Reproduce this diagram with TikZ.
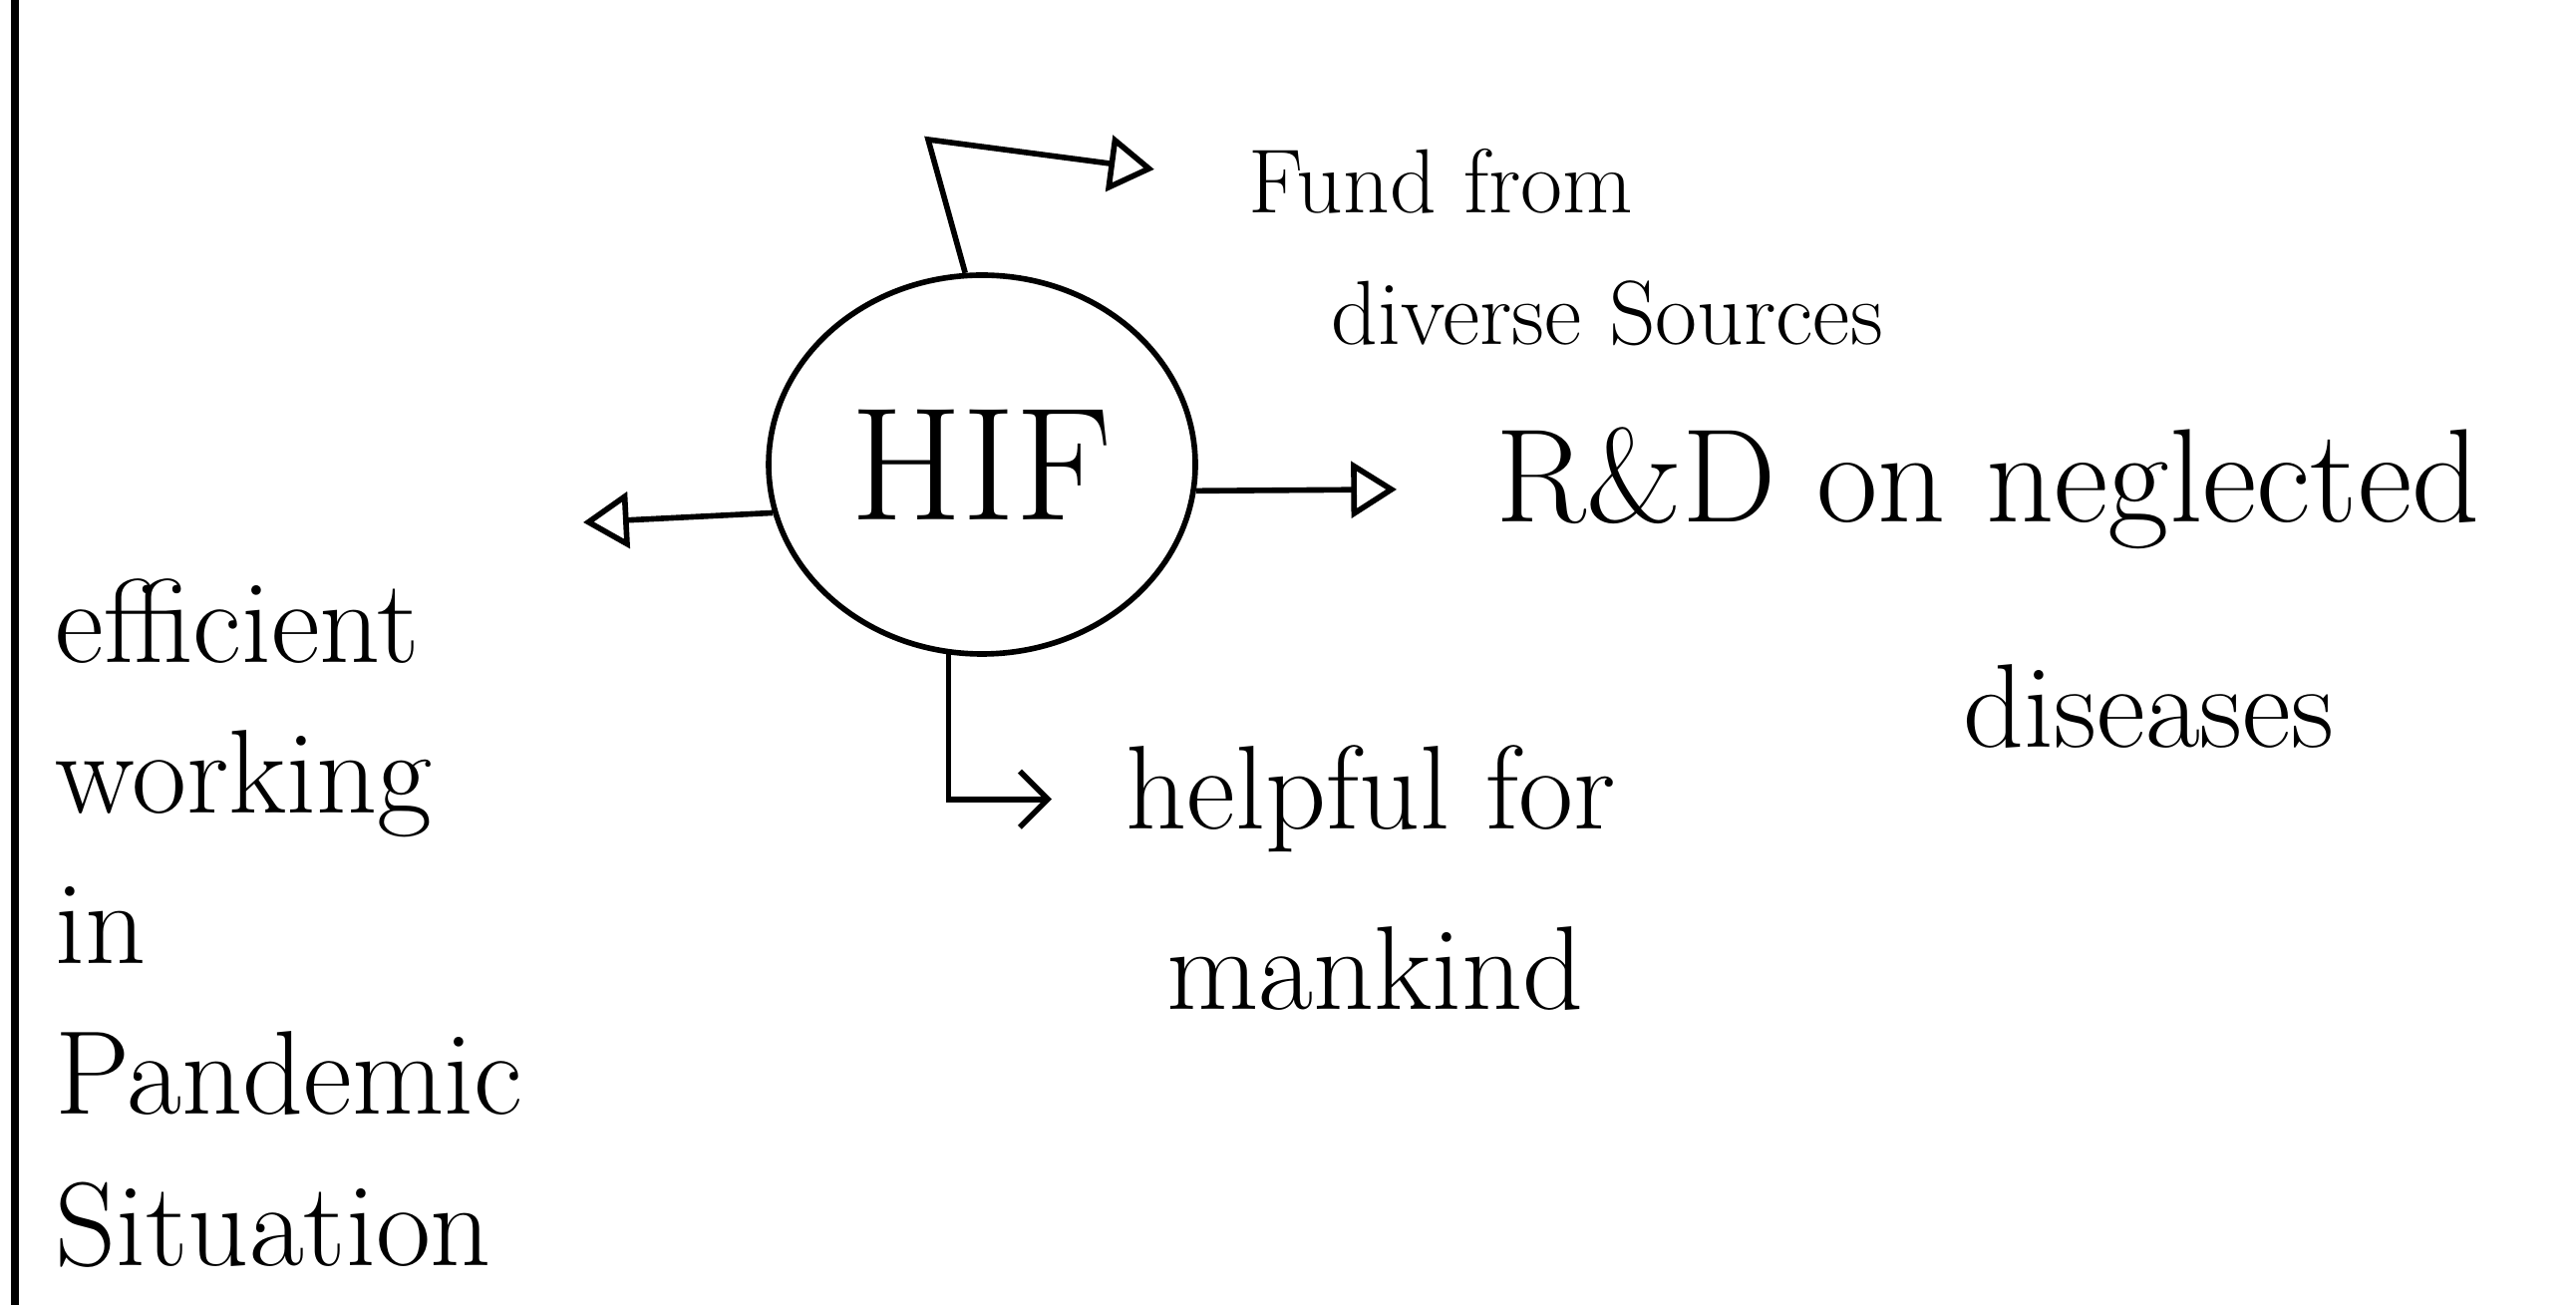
\documentclass[tikz,border=0pt]{standalone}
\usepackage{tikz}
\usetikzlibrary{shapes.geometric}
\usetikzlibrary{arrows.meta}

\tikzset{
  hand/.style={font=\fontsize{34}{43}\selectfont, inner sep=0pt},
  handsmall/.style={font=\fontsize{26}{32}\selectfont, inner sep=0pt},
  handbig/.style={font=\fontsize{38}{44}\selectfont, inner sep=0pt},
  pen/.style={line width=1.6pt},
  openhead/.style={pen, -{Triangle[open, length=13pt, width=16pt, line width=1.6pt]}},
  barbhead/.style={pen, -{Straight Barb[length=8pt, width=16pt]}}
}

\begin{document}
\begin{tikzpicture}

        \useasboundingbox (0,0) rectangle (25.84,-13.09);

        % Page margin line
        \draw[line width=2.2pt] (0.15,0) -- (0.15,-13.09);

        % HIF
        \node[ellipse, draw, pen, minimum width=4.28cm, minimum height=3.8cm,
              font=\fontsize{46}{50}\selectfont] (hif) at (9.85,-4.66) {HIF};

        % labels
        \node[handsmall, anchor=base west] (fund1) at (12.52,-2.14) {Fund from};
        \node[handsmall, anchor=base west] (fund2) at (13.35,-3.46) {diverse Sources};

        \node[handbig, anchor=base west] (rd1) at (15.00,-5.24) {R\&D on neglected};
        \node[hand, anchor=base west] (rd2) at (19.69,-7.50) {diseases};

        \node[hand, anchor=base west] (help1) at (11.29,-8.32) {helpful for};
        \node[hand, anchor=base west] (help2) at (11.70,-10.13) {mankind};

        \node[hand, anchor=north west, align=left] (eff) at (0.55,-5.80)
             {efficient\\working\\in\\Pandemic\\Situation};

        % arrows
        \coordinate (topbend) at (9.31,-1.40);
        \coordinate (efftip) at (5.85,-5.24);

        \draw[openhead, shorten >=0.95cm] (hif.95) -- (topbend) -- (fund1.west);
        \draw[openhead, shorten >=0.99cm] (hif.-7) -- (rd1.west);
        \draw[openhead] (hif.193) -- (efftip);
        \draw[barbhead, shorten >=0.74cm] (hif.260) |- (help1.west);

\end{tikzpicture}
\end{document}
